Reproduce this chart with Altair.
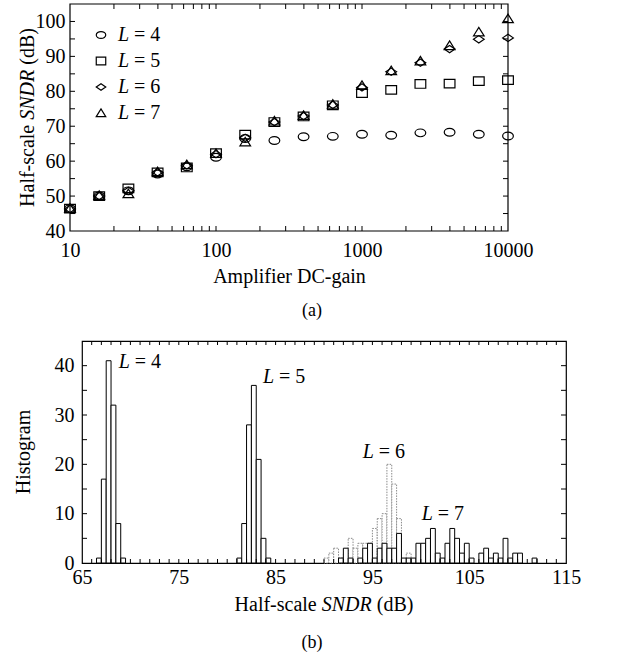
import altair as alt
import pandas as pd

FONT = "Liberation Serif"

# ---------------- data: (a) SNDR vs amplifier DC gain ----------------
gain = [10, 15.85, 25.12, 39.81, 63.10, 100, 158.5, 251.2, 398.1, 631.0,
        1000, 1585, 2512, 3981, 6310, 10000]
sndr_L4 = [46.4, 50.0, 51.5, 56.3, 58.4, 61.1, 66.5, 65.9, 67.0, 67.1,
           67.7, 67.4, 68.1, 68.3, 67.7, 67.2]
sndr_L5 = [46.4, 50.0, 52.2, 56.8, 58.2, 62.3, 67.6, 71.2, 72.8, 76.0,
           79.5, 80.4, 82.1, 82.2, 82.9, 83.2]
sndr_L6 = [46.3, 50.0, 51.5, 56.8, 58.8, 62.0, 66.7, 71.2, 72.9, 76.1,
           81.1, 85.6, 88.2, 92.1, 94.9, 95.3]
sndr_L7 = [46.5, 50.2, 50.7, 57.0, 59.0, 62.2, 65.5, 71.5, 73.1, 76.3,
           81.7, 85.9, 88.7, 93.1, 97.0, 100.8]
orders = ["4", "5", "6", "7"]

# ---------------- data: (b) histograms ----------------
BIN = 0.5
h4_start = [66.5, 67.0, 67.5, 68.0, 68.5, 69.0]
h4_count = [1, 17, 41, 32, 8, 1]
h5_start = [81.0, 81.5, 82.0, 82.5, 83.0, 83.5, 84.0]
h5_count = [1, 8, 28, 36, 21, 5, 1]
h6_start = [90.0, 90.5, 91.0, 91.5, 92.0, 92.5, 93.0, 93.5, 94.0, 94.5,
            95.0, 95.5, 96.0, 96.5, 97.0, 97.5, 98.0, 98.5]
h6_count = [1, 2, 3, 1, 2, 5, 3, 4, 4, 4, 7, 9, 10, 20, 16, 9, 0, 2]
h7_start = [91.5, 92.0, 92.5, 93.0, 93.5, 94.0, 94.5, 95.0, 95.5, 96.0,
            96.5, 97.0, 97.5, 98.0, 98.5, 99.0, 99.5, 100.0, 100.5, 101.0,
            101.5, 102.0, 102.5, 103.0, 103.5, 104.0, 104.5, 105.0, 105.5, 106.0,
            106.5, 107.0, 107.5, 108.0, 108.5, 109.0, 109.5, 110.0, 110.5, 111.0,
            111.5]
h7_count = [1, 3, 1, 0, 1, 3, 4, 1, 3, 4,
            3, 3, 6, 1, 1, 1, 4, 4, 5, 7,
            2, 1, 4, 7, 5, 2, 4, 1, 0, 2,
            3, 1, 2, 1, 5, 1, 2, 2, 0, 0,
            1]
# annotation anchors (dB, count)
ann_L = ["4", "5", "6", "7"]
ann_x = [68.8, 83.7, 94.0, 100.1]
ann_y = [40.8, 37.8, 22.5, 10.0]

# tick positions
ytick1 = [45, 50, 55, 60, 65, 70, 75, 80, 85, 90, 95, 100]
xtick1_major = [100, 1000]
xtick1_minor = [20, 30, 40, 50, 60, 70, 80, 90, 200, 300, 400, 500, 600, 700,
                800, 900, 2000, 3000, 4000, 5000, 6000, 7000, 8000, 9000]
ytick2 = [5, 10, 15, 20, 25, 30, 35, 40]
xtick2 = [66, 67, 68, 69, 70, 71, 72, 73, 74, 75, 76, 77, 78, 79, 80, 81, 82, 83,
          84, 85, 86, 87, 88, 89, 90, 91, 92, 93, 94, 95, 96, 97, 98, 99, 100,
          101, 102, 103, 104, 105, 106, 107, 108, 109, 110, 111, 112, 113, 114]

# ---------------- layout constants ----------------
SH = 12                 # top panel sits 12 px left of the bottom panel
W1, H1 = 438, 227
X0, X1 = -SH, W1 - SH   # top panel frame in its group coordinates
W2, H2 = 484, 222
TL = 5
LFS = 20  # tick label font size

SHAPES = [
    "M-1,0A1,0.72,0,1,0,1,0A1,0.72,0,1,0,-1,0Z",
    "M-1,-0.8L1,-0.8L1,0.8L-1,0.8Z",
    "M-1,0L0,-0.68L1,0L0,0.68Z",
    "M-1,0.75L0,-0.85L1,0.75Z",
]


def txt(text, x, y, size=20, italic=False, angle=0, align="left",
        baseline="middle", dx=0):
    return alt.Chart(pd.DataFrame({"t": [text]})).mark_text(
        font=FONT, fontSize=size, fontStyle="italic" if italic else "normal",
        angle=angle, align=align, baseline=baseline, color="black", dx=dx
    ).encode(x=alt.value(x), y=alt.value(y), text="t:N")


def spacer(x):
    return alt.Chart(pd.DataFrame({"a": [0]})).mark_rule(opacity=0).encode(
        x=alt.value(x), y=alt.value(0), y2=alt.value(1))


# ================= (a) =================
xs1 = alt.Scale(type="log", domain=[10, 10000], nice=False, range=[X0, X1])
ys1 = alt.Scale(domain=[40, 105], nice=False, zero=False)
ax_x1 = alt.Axis(values=[10, 100, 1000, 10000], format="d", ticks=False,
                 domain=False, grid=False, labelPadding=9, labelFlush=False,
                 title="Amplifier DC-gain", titleFontSize=20,
                 titleFontWeight="normal", titlePadding=6)
ax_y1 = alt.Axis(values=[40, 50, 60, 70, 80, 90, 100], ticks=False, domain=False,
                 grid=False, labelPadding=5, offset=SH, title=None)

rows = []
for L, vals in zip(orders, [sndr_L4, sndr_L5, sndr_L6, sndr_L7]):
    for g, v in zip(gain, vals):
        rows.append({"gain": g, "sndr": v, "L": L})
df_pts = pd.DataFrame(rows)

pts = alt.Chart(df_pts).mark_point(
    filled=False, stroke="black", strokeWidth=1.2, size=115, opacity=1
).encode(
    x=alt.X("gain:Q", scale=xs1, axis=ax_x1),
    y=alt.Y("sndr:Q", scale=ys1, axis=ax_y1),
    shape=alt.Shape("L:N", scale=alt.Scale(domain=orders, range=SHAPES), legend=None),
)

df_yt1 = pd.DataFrame({"sndr": ytick1})
yt_left = alt.Chart(df_yt1).mark_rule(color="black", strokeWidth=1).encode(
    y=alt.Y("sndr:Q", scale=ys1, axis=ax_y1), x=alt.value(X0), x2=alt.value(X0 + TL))
yt_right = alt.Chart(df_yt1).mark_rule(color="black", strokeWidth=1).encode(
    y=alt.Y("sndr:Q", scale=ys1, axis=ax_y1), x=alt.value(X1 - TL), x2=alt.value(X1))

df_xt1 = pd.DataFrame({"gain": xtick1_major + xtick1_minor})
xt_bot = alt.Chart(df_xt1).mark_rule(color="black", strokeWidth=1).encode(
    x=alt.X("gain:Q", scale=xs1, axis=ax_x1), y=alt.value(H1), y2=alt.value(H1 - 5))
xt_top = alt.Chart(df_xt1).mark_rule(color="black", strokeWidth=1).encode(
    x=alt.X("gain:Q", scale=xs1, axis=ax_x1), y=alt.value(0), y2=alt.value(5))

frame1 = alt.Chart(pd.DataFrame({"a": [0]})).mark_rect(
    fill="white", fillOpacity=0, stroke="black", strokeWidth=1.2
).encode(x=alt.value(X0), x2=alt.value(X1), y=alt.value(0), y2=alt.value(H1))

legend_layers = []
for i, L in enumerate(orders):
    yy = 31 + 26 * i
    legend_layers.append(
        alt.Chart(pd.DataFrame({"L": [L]})).mark_point(
            filled=False, stroke="black", strokeWidth=1.2, size=90, opacity=1,
            shape=SHAPES[i]).encode(x=alt.value(X0 + 31), y=alt.value(yy)))
    legend_layers.append(txt("L", X0 + 48, yy, italic=True))
    legend_layers.append(txt("= " + L, X0 + 48, yy, dx=16))

# rotated y title: Half-scale SNDR (dB)
fs = 20
w_half = 4.109 * fs
w_sp = 0.25 * fs
w_sndr = 2.5 * fs
w_db = 1.833 * fs
total = w_half + w_sp + w_sndr + w_sp + w_db
yc = H1 / 2
tx = X0 - 42
y_start = yc + total / 2
ytitle = [
    txt("Half-scale", tx, y_start, angle=270),
    txt("SNDR", tx, y_start - w_half - w_sp, italic=True, angle=270),
    txt("(dB)", tx, y_start - w_half - w_sp - w_sndr - w_sp, angle=270),
]

lab_a = txt("(a)", X0 + 242, 307, size=18, align="center")

top = alt.layer(
    pts, yt_left, yt_right, xt_bot, xt_top, frame1, *legend_layers, *ytitle,
    lab_a, spacer(-68)
).properties(width=X1, height=H1, view=alt.ViewBackground(strokeOpacity=0))

# ================= (b) =================
xs2 = alt.Scale(domain=[65, 115], nice=False, zero=False)
ys2 = alt.Scale(domain=[0, 45], nice=False)
ax_x2 = alt.Axis(values=[65, 75, 85, 95, 105, 115], format="d", ticks=False,
                 domain=False, grid=False, labelPadding=4, labelFlush=False,
                 title=None)
ax_y2 = alt.Axis(values=[0, 10, 20, 30, 40], ticks=False, domain=False,
                 grid=False, labelPadding=8, title=None)


def hist_df(starts, counts):
    d = pd.DataFrame({"db": starts, "count": counts})
    d = d[d["count"] > 0].copy()
    d["end"] = d["db"] + BIN
    d["base"] = 0
    return d


df_black = pd.concat([hist_df(h4_start, h4_count), hist_df(h5_start, h5_count),
                      hist_df(h7_start, h7_count)])
df_gray = hist_df(h6_start, h6_count)

gray_bars = alt.Chart(df_gray).mark_rect(
    fill="white", stroke="#8a8a8a", strokeWidth=1, strokeDash=[1.5, 1.2]
).encode(
    x=alt.X("db:Q", scale=xs2, axis=ax_x2), x2="end:Q",
    y=alt.Y("count:Q", scale=ys2, axis=ax_y2), y2="base:Q",
)
black_bars = alt.Chart(df_black).mark_rect(
    fill="white", stroke="black", strokeWidth=1
).encode(
    x=alt.X("db:Q", scale=xs2, axis=ax_x2), x2="end:Q",
    y=alt.Y("count:Q", scale=ys2, axis=ax_y2), y2="base:Q",
)

df_yt2 = pd.DataFrame({"count": ytick2})
yt2_left = alt.Chart(df_yt2).mark_rule(color="black", strokeWidth=1).encode(
    y=alt.Y("count:Q", scale=ys2, axis=ax_y2), x=alt.value(0), x2=alt.value(TL))
yt2_right = alt.Chart(df_yt2).mark_rule(color="black", strokeWidth=1).encode(
    y=alt.Y("count:Q", scale=ys2, axis=ax_y2), x=alt.value(W2 - TL), x2=alt.value(W2))
df_xt2 = pd.DataFrame({"db": xtick2})
xt2_bot = alt.Chart(df_xt2).mark_rule(color="black", strokeWidth=1).encode(
    x=alt.X("db:Q", scale=xs2, axis=ax_x2), y=alt.value(H2), y2=alt.value(H2 - 4))
xt2_top = alt.Chart(df_xt2).mark_rule(color="black", strokeWidth=1).encode(
    x=alt.X("db:Q", scale=xs2, axis=ax_x2), y=alt.value(0), y2=alt.value(4))

df_ann = pd.DataFrame({"db": ann_x, "count": ann_y, "L": ["L"] * 4,
                       "rest": ["= " + s for s in ann_L]})
ann_L_layer = alt.Chart(df_ann).mark_text(
    font=FONT, fontSize=20, fontStyle="italic", align="left", baseline="middle",
    color="black").encode(
    x=alt.X("db:Q", scale=xs2, axis=ax_x2), y=alt.Y("count:Q", scale=ys2, axis=ax_y2),
    text="L:N")
ann_rest_layer = alt.Chart(df_ann).mark_text(
    font=FONT, fontSize=20, align="left", baseline="middle", color="black", dx=16
).encode(
    x=alt.X("db:Q", scale=xs2, axis=ax_x2), y=alt.Y("count:Q", scale=ys2, axis=ax_y2),
    text="rest:N")

# x title with italic SNDR
xc = W2 / 2
x_start = xc - total / 2
ty = 42 + H2
xtitle = [
    txt("Half-scale", x_start, ty),
    txt("SNDR", x_start + w_half + w_sp, ty, italic=True),
    txt("(dB)", x_start + w_half + w_sp + w_sndr + w_sp, ty),
]
hist_title = txt("Histogram", -58, H2 / 2, angle=270, align="center")
lab_b = txt("(b)", 230, 80 + H2, size=18, align="center")

bottom = alt.layer(
    gray_bars, black_bars, yt2_left, yt2_right, xt2_bot, xt2_top,
    ann_L_layer, ann_rest_layer, *xtitle, hist_title, lab_b, spacer(-68)
).properties(width=W2, height=H2)

chart = alt.vconcat(top, bottom, spacing=19).properties(
    padding={"left": 13, "top": 3, "right": 5, "bottom": 5}
).configure_view(stroke="black", strokeWidth=1.2).configure_axis(
    labelFont=FONT, labelFontSize=LFS, labelColor="black", titleFont=FONT,
    titleColor="black"
)

chart.save("out.html", embed_options={"renderer": "svg", "actions": False})
